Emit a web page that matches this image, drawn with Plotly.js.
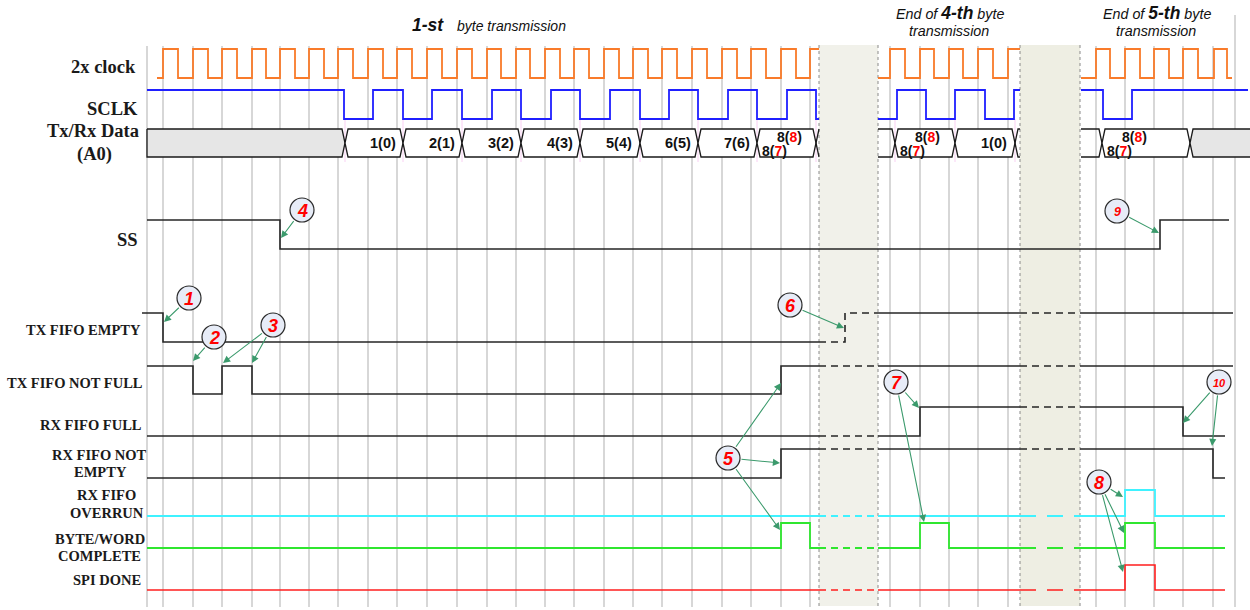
<!DOCTYPE html>
<html><head><meta charset="utf-8">
<script src="https://cdn.plot.ly/plotly-3.0.1.min.js"></script>
<style>html,body{margin:0;padding:0;background:#fff}#chart{width:1250px;height:610px}</style>
</head><body><div id="chart"></div>
<script>
// ================= DATA (time in diagram units, logic levels 0/1) =================
const gridTicks = [147,163,193,222,252,280,309,338,368,397,427,457,487,516,545,574,604,633,662,692,722,751,781,810,
                   890,920,949,978,1008, 1096,1125,1154,1183,1213];
const rightFrameTick = 1235;
const gapBands = [[819,878],[1020,1080]];

const clockSeg1T = [157,163,178,193,208,222,237,252,266,280,295,309,324,338,353,368,383,397,412,427,442,457,472,487,501,516,530,545,560,574,589,604,619,633,648,662,677,692,707,722,737,751,766,781,796,810,819];
const clockSeg1V = [0,1,0,1,0,1,0,1,0,1,0,1,0,1,0,1,0,1,0,1,0,1,0,1,0,1,0,1,0,1,0,1,0,1,0,1,0,1,0,1,0,1,0,1,0,1,1];
const clockSeg2T = [878,890,905,920,934,949,963,978,993,1008,1020];
const clockSeg2V = [0,1,0,1,0,1,0,1,0,1,1];
const clockSeg3T = [1081,1096,1110,1125,1140,1154,1169,1183,1198,1214,1227,1232];
const clockSeg3V = [0,1,0,1,0,1,0,1,0,1,0,0];

const sclkSeg1T = [147,344,373,403,432,462,492,521,551,580,610,640,669,698,728,757,787,816,819];
const sclkSeg1V = [1,0,1,0,1,0,1,0,1,0,1,0,1,0,1,0,1,0,0];
const sclkSeg2T = [878,897,926,955,985,1014,1020];
const sclkSeg2V = [0,1,0,1,0,1,1];
const sclkSeg3T = [1081,1103,1132,1248];
const sclkSeg3V = [1,0,1,1];

const busCross1 = [345,403,462,521,580,640,698,757,816];
const busLabels1 = ['1(0)','2(1)','3(2)','4(3)','5(4)','6(5)','7(6)','8(8)/8(7)'];
const busCross2 = [895,955,1015];
const busLabels2 = ['8(8)/8(7)','1(0)'];
const busCross3 = [1102,1190];
const busLabels3 = ['8(8)/8(7)'];

const ssT   = [147,280,1160,1229];           const ssV   = [1,0,1,1];
const txeT  = [142,163,845,1233];            const txeV  = [1,0,1,1];
const txnfT = [147,193,222,252,781,1233];    const txnfV = [1,0,1,0,1,1];
const rxfT  = [147,920,1183,1225];           const rxfV  = [0,1,0,0];
const rxneT = [147,781,1213,1225];           const rxneV = [0,1,0,0];
const ovrT  = [147,1125,1155,1225];          const ovrV  = [0,1,0,0];
const bwcT  = [147,781,810,920,949,1125,1155,1225]; const bwcV = [0,1,0,1,0,1,0,0];
const doneT = [147,1125,1155,1225];          const doneV = [0,1,0,0];

const signalLabels = ['2x clock','SCLK','Tx/Rx Data','(A0)','SS','TX FIFO EMPTY','TX FIFO NOT FULL','RX FIFO FULL',
                      'RX FIFO NOT','EMPTY','RX FIFO','OVERRUN','BYTE/WORD','COMPLETE','SPI DONE'];

const calloutNums = ['1','2','3','4','5','6','7','8','9','10'];
const calloutCX = [189,214,273,302,728,790,896,1099,1117,1219];
const calloutCY = [298,337,325,210,458,305,382,482,211,382];
const arrowFrom  = [0,1,2,2,3,4,4,4,5,6,6,7,7,7,8,9,9];
const arrowHeadX = [164,193,223,252,281,781,780,780,844,919,924,1123,1124,1123,1159,1183,1212];
const arrowHeadY = [322,361,363,363,238,383,463,530,328,408,522,497,533,572,233,423,446];

// ================= LAYOUT / STYLE =================
const rows = {
  clk:{hi:49,lo:78}, sclk:{hi:90,lo:119}, ss:{hi:220,lo:249}, txe:{hi:313,lo:342}, txnf:{hi:366,lo:394},
  rxf:{hi:407,lo:436}, rxne:{hi:449,lo:478}, ovr:{hi:490,lo:516}, bwc:{hi:523,lo:548}, done:{hi:565,lo:590}
};
const bus = {top:129, mid:143, bot:157, tip:3};
const SANS = 'Liberation Sans, Arial, sans-serif';
const SERIF = 'Liberation Serif, Times New Roman, serif';
const BLACK = '#262626';

const traces = [];
const shapes = [];
const annotations = [];

function addLine(xs, ys, color, width, dash){
  traces.push({type:'scatter', mode:'lines', x:xs, y:ys, hoverinfo:'skip', showlegend:false,
               line:{color:color, width:width, dash:dash||'solid', shape:'hv'}});
}
function levelsToY(v,row){ return v.map(l => l ? row.hi : row.lo); }
function clip(t, v, a, b){
  let lvl = null;
  for (let i=0;i<t.length;i++) if (t[i] <= a) lvl = v[i];
  if (lvl === null){ a = t[0]; lvl = v[0]; }
  const end = Math.min(b, t[t.length-1]);
  if (end <= a) return null;
  const xs=[a], ys=[lvl];
  for (let i=0;i<t.length;i++) if (t[i] > a && t[i] < end){ xs.push(t[i]); ys.push(v[i]); }
  xs.push(end); ys.push(ys[ys.length-1]);
  return {xs, ys};
}
function addSignal(t, v, row, color, width, band2Dash, solidThrough){
  if (solidThrough){ addLine(t, levelsToY(v,row), color, width); return; }
  const tEnd = t[t.length-1];
  const solid = [[t[0], gapBands[0][0]], [gapBands[0][1], gapBands[1][0]], [gapBands[1][1], tEnd]];
  solid.forEach(([a,b]) => { const c = clip(t,v,a,b); if (c) addLine(c.xs, levelsToY(c.ys,row), color, width); });
  gapBands.forEach(([a,b],i) => {
    const c = clip(t,v,a,b);
    if (c) addLine(c.xs, levelsToY(c.ys,row), color, width, i===0 ? '7px,5px' : band2Dash);
  });
}

// ---- gap bands & grid ----
gapBands.forEach(([a,b],i) => {
  shapes.push({type:'rect', xref:'x', yref:'y', x0:a, x1:b, y0:45, y1:606, layer:'below',
               fillcolor: i===0 ? '#f1f1ea' : '#eeeee3', line:{width:0}});
  [a,b].forEach(x => shapes.push({type:'line', xref:'x', yref:'y', x0:x, x1:x, y0:45, y1:606, layer:'below',
               line:{color:'#8a8a8a', width:1, dash:'dot'}}));
});
gridTicks.forEach(x => shapes.push({type:'line', xref:'x', yref:'y', x0:x, x1:x, y0:46, y1:607, layer:'below',
               line:{color:'#cdcdcd', width:1.6}}));
shapes.push({type:'line', xref:'x', yref:'y', x0:rightFrameTick, x1:rightFrameTick, y0:15, y1:607, layer:'below',
             line:{color:'#cdcdcd', width:1.6}});

// faint markers under SCLK at bus crossings
[busCross1, busCross2].forEach(arr => arr.forEach(x => shapes.push({type:'line', xref:'x', yref:'y', x0:x, x1:x,
   y0:119, y1:162, layer:'below', line:{color:'#f9d0f3', width:1}})));

// ---- clocks ----
[[clockSeg1T,clockSeg1V],[clockSeg2T,clockSeg2V],[clockSeg3T,clockSeg3V]].forEach(([t,v]) =>
  addLine(t, levelsToY(v,rows.clk), '#f97b2a', 1.8));
[[sclkSeg1T,sclkSeg1V],[sclkSeg2T,sclkSeg2V],[sclkSeg3T,sclkSeg3V]].forEach(([t,v]) =>
  addLine(t, levelsToY(v,rows.sclk), '#1f1fff', 1.8));

// ---- data bus ----
function poly(xs, ys, fill, closed){
  traces.push({type:'scatter', mode:'lines', x:xs, y:ys, hoverinfo:'skip', showlegend:false,
               fill: closed ? 'toself' : 'none', fillcolor: fill || 'rgba(0,0,0,0)',
               line:{color:'#1a1a1a', width:1.3}});
}
function hexagon(a,b){
  const d = bus.tip;
  poly([a,a+d,b-d,b,b-d,a+d,a], [bus.mid,bus.top,bus.top,bus.mid,bus.bot,bus.bot,bus.mid], '#ffffff', true);
}
function leftStub(x0, a){ poly([x0, a-bus.tip, a, a-bus.tip, x0], [bus.top,bus.top,bus.mid,bus.bot,bus.bot], null, false); }
function rightStub(a, x1){ poly([x1, a+bus.tip, a, a+bus.tip, x1], [bus.top,bus.top,bus.mid,bus.bot,bus.bot], null, false); }
const BUSFONT = 14.5;
function busLabel(a, b, lab){
  if (lab.indexOf('/') >= 0){
    const [top, bot] = lab.split('/');
    const fmt = s => s[0] + '(<span style="color:#ff0000">' + s[2] + '</span>)';
    annotations.push({x:a+18, y:bus.mid-6, xref:'x', yref:'y', xanchor:'left', yanchor:'middle', showarrow:false,
                      text:'<b>'+fmt(top)+'</b>', font:{family:SANS, size:BUSFONT-0.5, color:'#111'}});
    annotations.push({x:a+3, y:bus.mid+8, xref:'x', yref:'y', xanchor:'left', yanchor:'middle', showarrow:false,
                      text:'<b>'+fmt(bot)+'</b>', font:{family:SANS, size:BUSFONT-0.5, color:'#111'}});
  } else {
    annotations.push({x:(a+b)/2+9, y:bus.mid, xref:'x', yref:'y', xanchor:'center', yanchor:'middle', showarrow:false,
                      text:'<b>'+lab+'</b>', font:{family:SANS, size:BUSFONT, color:'#111'}});
  }
}
// leading idle (grey) block
poly([147, busCross1[0]-bus.tip, busCross1[0], busCross1[0]-bus.tip, 147, 147],
     [bus.top, bus.top, bus.mid, bus.bot, bus.bot, bus.top], '#e6e6e6', true);
for (let i=0;i<busCross1.length-1;i++){ hexagon(busCross1[i], busCross1[i+1]); busLabel(busCross1[i], busCross1[i+1], busLabels1[i]); }
rightStub(busCross1[busCross1.length-1], gapBands[0][0]);
leftStub(gapBands[0][1], busCross2[0]);
for (let i=0;i<busCross2.length-1;i++){ hexagon(busCross2[i], busCross2[i+1]); busLabel(busCross2[i], busCross2[i+1], busLabels2[i]); }
rightStub(busCross2[busCross2.length-1], gapBands[1][0]);
leftStub(gapBands[1][1]+1, busCross3[0]);
for (let i=0;i<busCross3.length-1;i++){ hexagon(busCross3[i], busCross3[i+1]); busLabel(busCross3[i], busCross3[i+1], busLabels3[i]); }
{ const a = busCross3[busCross3.length-1];
  poly([1252, a+bus.tip, a, a+bus.tip, 1252], [bus.top,bus.top,bus.mid,bus.bot,bus.bot], '#e6e6e6', true); }

// ---- status signals ----
addSignal(ssT, ssV, rows.ss, BLACK, 1.6, '7px,5px', true);
addSignal(txeT, txeV, rows.txe, BLACK, 1.6, '7px,5px');
addSignal(txnfT, txnfV, rows.txnf, BLACK, 1.6, '7px,5px');
addSignal(rxfT, rxfV, rows.rxf, BLACK, 1.6, '7px,5px');
addSignal(rxneT, rxneV, rows.rxne, BLACK, 1.6, '7px,5px');
addSignal(ovrT, ovrV, rows.ovr, '#3ff2ff', 1.8, '16px,11px');
addSignal(bwcT, bwcV, rows.bwc, '#2fe62f', 1.8, '16px,11px');
addSignal(doneT, doneV, rows.done, '#ff1e1e', 1.6, '16px,11px');

// ---- signal names ----
const SM = 14.5;
const labelPos = [
  {x:138, y:67, a:'right', s:18.5}, {x:140, y:109, a:'right', s:18.5}, {x:141, y:131, a:'right', s:18.5},
  {x:94.5, y:154, a:'center', s:18.5}, {x:140, y:240, a:'right', s:18.5},
  {x:143, y:330, a:'right', s:SM}, {x:145, y:383, a:'right', s:SM}, {x:144, y:425, a:'right', s:SM},
  {x:99.5, y:455, a:'center', s:SM}, {x:100, y:472, a:'center', s:SM},
  {x:106.5, y:495, a:'center', s:SM}, {x:106.5, y:513, a:'center', s:SM},
  {x:99.5, y:539, a:'center', s:SM}, {x:99.5, y:556, a:'center', s:SM}, {x:143, y:580, a:'right', s:SM}
];
signalLabels.forEach((t,i) => { const p = labelPos[i];
  annotations.push({x:p.x, y:p.y, xref:'x', yref:'y', xanchor:p.a, yanchor:'middle', showarrow:false,
    text:'<b>'+t+'</b>', font:{family:SERIF, size:p.s, color:'#1a1a1a'}});
});

// ---- headings ----
annotations.push({x:410, y:25, xref:'x', yref:'y', xanchor:'left', yanchor:'middle', showarrow:false,
  text:'<b><i>1-st</i></b>', font:{family:SANS, size:17.5, color:'#111'}});
annotations.push({x:455, y:26, xref:'x', yref:'y', xanchor:'left', yanchor:'middle', showarrow:false,
  text:'<i>byte transmission</i>', font:{family:SANS, size:14, color:'#111'}});
[['4-th',949.5],['5-th',1157]].forEach(([n,cx]) => {
  annotations.push({x:cx, y:13, xref:'x', yref:'y', xanchor:'center', yanchor:'middle', showarrow:false,
    text:'<i>End of <b><span style="font-size:17.5px">'+n+'</span></b> byte</i>', font:{family:SANS, size:14.3, color:'#111'}});
  annotations.push({x:cx-1, y:31, xref:'x', yref:'y', xanchor:'center', yanchor:'middle', showarrow:false,
    text:'<i>transmission</i>', font:{family:SANS, size:14.3, color:'#111'}});
});

// ---- callouts ----
const R = 12;
arrowFrom.forEach((ci,k) => {
  const cx = calloutCX[ci], cy = calloutCY[ci], hx = arrowHeadX[k], hy = arrowHeadY[k];
  const dx = hx-cx, dy = hy-cy, L = Math.hypot(dx,dy);
  annotations.push({x:hx, y:hy, ax:cx+R*dx/L, ay:cy+R*dy/L, xref:'x', yref:'y', axref:'x', ayref:'y',
    text:'', showarrow:true, arrowhead:2, arrowsize:1.3, arrowwidth:1.1, arrowcolor:'#3b9a6c', standoff:0});
});
calloutNums.forEach((n,i) => {
  shapes.push({type:'circle', xref:'x', yref:'y', x0:calloutCX[i]-R, x1:calloutCX[i]+R,
    y0:calloutCY[i]-R, y1:calloutCY[i]+R, layer:'above', fillcolor:'#e7ecf7', line:{color:'#2a2a2a', width:1.2}});
  const sz = n==='10' ? 11 : (n==='9' ? 12.5 : 18);
  annotations.push({x:calloutCX[i], y:calloutCY[i]+0.5, xref:'x', yref:'y', xanchor:'center', yanchor:'middle', showarrow:false,
    text:'<b><i>'+n+'</i></b>', font:{family:SANS, size:sz, color:'#ff0000'}});
});

const layout = {
  width:1250, height:610, margin:{l:0,r:0,t:0,b:0},
  paper_bgcolor:'#ffffff', plot_bgcolor:'#ffffff',
  xaxis:{range:[0,1250], visible:false, fixedrange:true},
  yaxis:{range:[610,0], visible:false, fixedrange:true},
  shapes:shapes, annotations:annotations, showlegend:false
};
Plotly.newPlot('chart', traces, layout, {staticPlot:true, displayModeBar:false});
</script>
</body></html>
